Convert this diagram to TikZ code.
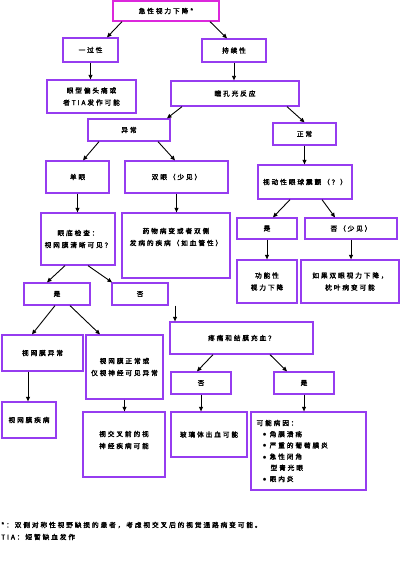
\documentclass[tikz,border=0pt]{standalone}
\usepackage{fontspec}
\newfontfamily\cjk[LetterSpace=28,FakeBold=2.2]{Noto Sans CJK SC}
\usetikzlibrary{arrows.meta,calc}

\definecolor{boxpurple}{RGB}{150,60,240}
\definecolor{topmagenta}{RGB}{220,40,220}

\tikzset{
  flowbox/.style={draw=boxpurple, line width=1.3pt, inner sep=0pt, align=center,
    font=\cjk\fontsize{6.7}{12}\selectfont},
  flowtext/.style={inner sep=0pt, align=center, font=\cjk\fontsize{6.7}{12}\selectfont},
  flowarrow/.style={-{Triangle[length=4.5pt,width=4pt]}, line width=0.9pt},
}
\newcommand{\listdot}{\hspace*{6pt}$\bullet$\hspace{3pt}}

\begin{document}
\begin{tikzpicture}[x=1pt,y=-1pt]
\useasboundingbox (0,0) rectangle (400,567);

% Top
\node[flowbox, draw=topmagenta, minimum width=106pt, minimum height=20pt] (top) at (166,11) {急性视力下降*};

% Transient / persistent
\node[flowbox, minimum width=55pt, minimum height=24pt] (yiguo) at (90.5,50) {一过性};
\node[flowbox, minimum width=64pt, minimum height=23pt] (chixu) at (234,50.5) {持续性};
\node[flowbox, minimum width=89pt, minimum height=33pt] (yanxing) at (91.5,96.5) {眼型偏头痛或\\者TIA发作可能};
\node[flowbox, minimum width=128pt, minimum height=25pt] (tongkong) at (235,93.5) {瞳孔光反应};

% Pupil reaction
\node[flowbox, minimum width=82pt, minimum height=22pt] (yichang) at (129,130) {异常};
\node[flowbox, minimum width=63pt, minimum height=22pt] (zhengchang) at (304.5,134) {正常};
\node[flowbox, minimum width=63pt, minimum height=32pt] (dan) at (77.5,177) {单眼};
\node[flowbox, minimum width=103pt, minimum height=32pt] (shuang) at (176.5,177) {双眼（少见）};
\node[flowbox, minimum width=94pt, minimum height=34pt] (shidong) at (305,182) {视动性眼球震颤（？）};

% Fundus
\node[flowbox, minimum width=74pt, minimum height=52pt] (yandi) at (78,239) {眼底检查：\\视网膜清晰可见？};
\node[flowbox, minimum width=108pt, minimum height=65pt] (yaowu) at (176,245.5) {};
\node[flowtext] (yaowutext) at ([yshift=8.5pt]yaowu.center) {药物病变或者双侧\\发病的疾病（如血管性）};

% Nystagmus answers
\node[flowbox, minimum width=60pt, minimum height=21pt] (shiR) at (267,228.5) {是};
\node[flowbox, minimum width=92pt, minimum height=21pt] (fouR) at (351,228.5) {否（少见）};
\node[flowbox, minimum width=60pt, minimum height=43pt] (gongneng) at (267,281.5) {功能性\\视力下降};
\node[flowbox, minimum width=98pt, minimum height=43pt] (ruguo) at (350,281.5) {如果双眼视力下降，\\枕叶病变可能};

% Fundus answers
\node[flowbox, minimum width=66pt, minimum height=22pt] (shiL) at (57,294) {是};
\node[flowbox, minimum width=56pt, minimum height=22pt] (fouL) at (140,294) {否};
\node[flowbox, minimum width=143pt, minimum height=32pt] (tengtong) at (241.5,338) {疼痛和结膜充血？};
\node[flowbox, minimum width=81pt, minimum height=36pt] (swmyc) at (42.5,353) {视网膜异常};
\node[flowbox, minimum width=77pt, minimum height=64pt] (swmzc) at (124.5,367) {视网膜正常或\\仅视神经可见异常};
\node[flowbox, minimum width=60pt, minimum height=22pt] (fouM) at (201,383) {否};
\node[flowbox, minimum width=60pt, minimum height=22pt] (shiM) at (304,383) {是};

% Bottom row
\node[flowbox, minimum width=54pt, minimum height=36pt] (swmjb) at (29,420) {视网膜疾病};
\node[flowbox, minimum width=82pt, minimum height=65pt] (sjc) at (124,444.5) {};
\node[flowtext] (sjctext) at ([yshift=4.5pt]sjc.center) {视交叉前的视\\神经疾病可能};
\node[flowbox, minimum width=76pt, minimum height=45pt] (blt) at (209,434.5) {玻璃体出血可能};
\node[flowbox, minimum width=115pt, minimum height=78pt] (knby) at (308.5,451) {};
\node[flowtext, align=left, anchor=west, font=\cjk\fontsize{6.7}{11.2}\selectfont] (knbytext) at ([xshift=6pt]knby.west)
  {可能病因：\\\listdot 角膜溃疡\\\listdot 严重的葡萄膜炎\\\listdot 急性闭角\\\hspace*{14pt}型青光眼\\\listdot 眼内炎};

% Notes
\node[flowtext, anchor=west] (note1) at (1,525) {*：双侧对称性视野缺损的患者，考虑视交叉后的视觉通路病变可能。};
\node[flowtext, anchor=west] (note2) at (1,537) {TIA：短暂缺血发作};

% Arrows
\draw[flowarrow] ([xshift=-44pt]top.south) -- ([xshift=16.5pt]yiguo.north);
\draw[flowarrow] ([xshift=44pt]top.south) -- ([xshift=-7pt]chixu.north);
\draw[flowarrow] (yiguo.south) -- (yiguo.south |- yanxing.north);
\draw[flowarrow] (chixu.south) -- (chixu.south |- tongkong.north);
\draw[flowarrow] ([xshift=-53pt]tongkong.south) -- ([xshift=38pt]yichang.north);
\draw[flowarrow] ([xshift=52pt]tongkong.south) -- (zhengchang.north);
\draw[flowarrow] ([xshift=-30pt]yichang.south) -- ([xshift=5.5pt]dan.north);
\draw[flowarrow] ([xshift=29pt]yichang.south) -- ([xshift=-1.5pt]shuang.north);
\draw[flowarrow] (zhengchang.south) -- (zhengchang.south |- shidong.north);
\draw[flowarrow] (dan.south) -- (dan.south |- yandi.north);
\draw[flowarrow] (shuang.south) -- (shuang.south |- yaowu.north);
\draw[flowarrow] ([xshift=-15pt]shidong.south) -- ([xshift=6pt]shiR.north);
\draw[flowarrow] ([xshift=17pt]shidong.south) -- ([xshift=-16pt]fouR.north);
\draw[flowarrow] (shiR.south) -- (shiR.south |- gongneng.north);
\draw[flowarrow] (fouR.south) -- (fouR.south |- ruguo.north);
\draw[flowarrow] ([xshift=-13pt]yandi.south) -- ([xshift=-10pt]shiL.north);
\draw[flowarrow] ([xshift=10pt]yandi.south) -- ([xshift=-28pt]fouL.north);
\draw[flowarrow] ([xshift=35pt]fouL.south) -- ([xshift=35pt]fouL.south |- tengtong.north);
\draw[flowarrow] ([xshift=-2pt]shiL.south) -- ([xshift=-10.5pt]swmyc.north);
\draw[flowarrow] ([xshift=13pt]shiL.south) -- ([xshift=-24.5pt]swmzc.north);
\draw[flowarrow] ([xshift=-28.5pt]tengtong.south) -- ([xshift=-4pt]fouM.north);
\draw[flowarrow] ([xshift=28.5pt]tengtong.south) -- ([xshift=-17pt]shiM.north);
\draw[flowarrow] ([xshift=-14.5pt]swmyc.south) -- ([xshift=-14.5pt]swmyc.south |- swmjb.north);
\draw[flowarrow] (swmzc.south) -- (swmzc.south |- sjc.north);
\draw[flowarrow] (fouM.south) -- (fouM.south |- blt.north);
\draw[flowarrow] (shiM.south) -- (shiM.south |- knby.north);
\end{tikzpicture}
\end{document}
